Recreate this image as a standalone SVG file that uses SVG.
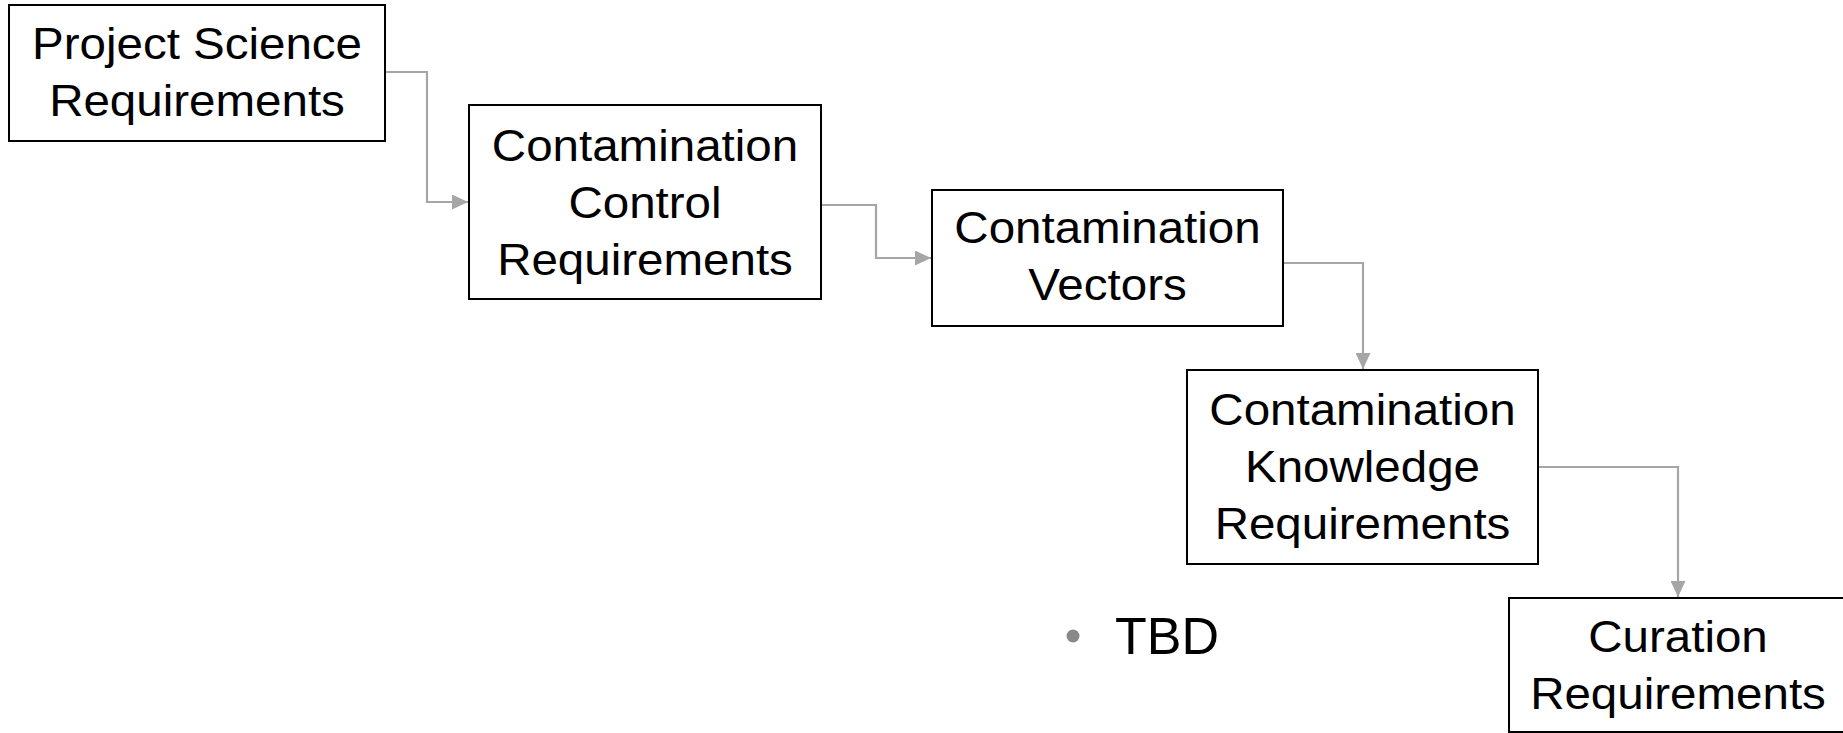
<svg xmlns="http://www.w3.org/2000/svg" width="1843" height="733" viewBox="0 0 1843 733">
  <style>
    .box { fill: #ffffff; stroke: #000000; stroke-width: 2; }
    .lbl { font-family: "Liberation Sans", Arial, sans-serif; font-size: 44px; fill: #000000; text-anchor: middle; }
    .conn { fill: none; stroke: #A6A6A6; stroke-width: 2.2; }
    .tbd { font-family: "Liberation Sans", Arial, sans-serif; font-size: 52px; fill: #000000; }
  </style>
  <defs>
    <marker id="arrow" markerUnits="userSpaceOnUse" markerWidth="16" markerHeight="15" refX="16" refY="7.5" orient="auto">
      <path d="M0,0 L16,7.5 L0,15 Z" fill="#A6A6A6"/>
    </marker>
  </defs>
  <rect width="1843" height="733" fill="#ffffff"/>

  <g id="connectors">
    <path class="conn" d="M385,72 H427 V202 H468" marker-end="url(#arrow)"/>
    <path class="conn" d="M821,205 H876 V258 H931" marker-end="url(#arrow)"/>
    <path class="conn" d="M1283,263 H1363 V369" marker-end="url(#arrow)"/>
    <path class="conn" d="M1538,467 H1678 V597" marker-end="url(#arrow)"/>
  </g>

  <g id="node-project-science">
    <rect class="box" x="9" y="5" width="376" height="136"/>
    <g transform="translate(197,0) scale(1.08,1)">
      <text class="lbl" x="0" y="59">Project Science</text>
      <text class="lbl" x="0" y="116">Requirements</text>
    </g>
  </g>

  <g id="node-contamination-control">
    <rect class="box" x="469" y="105" width="352" height="194"/>
    <g transform="translate(645,0) scale(1.08,1)">
      <text class="lbl" x="0" y="161">Contamination</text>
      <text class="lbl" x="0" y="218">Control</text>
      <text class="lbl" x="0" y="275">Requirements</text>
    </g>
  </g>

  <g id="node-contamination-vectors">
    <rect class="box" x="932" y="190" width="351" height="136"/>
    <g transform="translate(1107.5,0) scale(1.08,1)">
      <text class="lbl" x="0" y="243">Contamination</text>
      <text class="lbl" x="0" y="300">Vectors</text>
    </g>
  </g>

  <g id="node-contamination-knowledge">
    <rect class="box" x="1187" y="370" width="351" height="194"/>
    <g transform="translate(1362.5,0) scale(1.08,1)">
      <text class="lbl" x="0" y="425">Contamination</text>
      <text class="lbl" x="0" y="482">Knowledge</text>
      <text class="lbl" x="0" y="539">Requirements</text>
    </g>
  </g>

  <g id="node-curation">
    <rect class="box" x="1509" y="598" width="350" height="134"/>
    <g transform="translate(1678,0) scale(1.08,1)">
      <text class="lbl" x="0" y="652">Curation</text>
      <text class="lbl" x="0" y="709">Requirements</text>
    </g>
  </g>

  <g id="note-tbd">
    <circle cx="1073" cy="636" r="6.5" fill="#898989"/>
    <text class="tbd" x="1115" y="654">TBD</text>
  </g>
</svg>
